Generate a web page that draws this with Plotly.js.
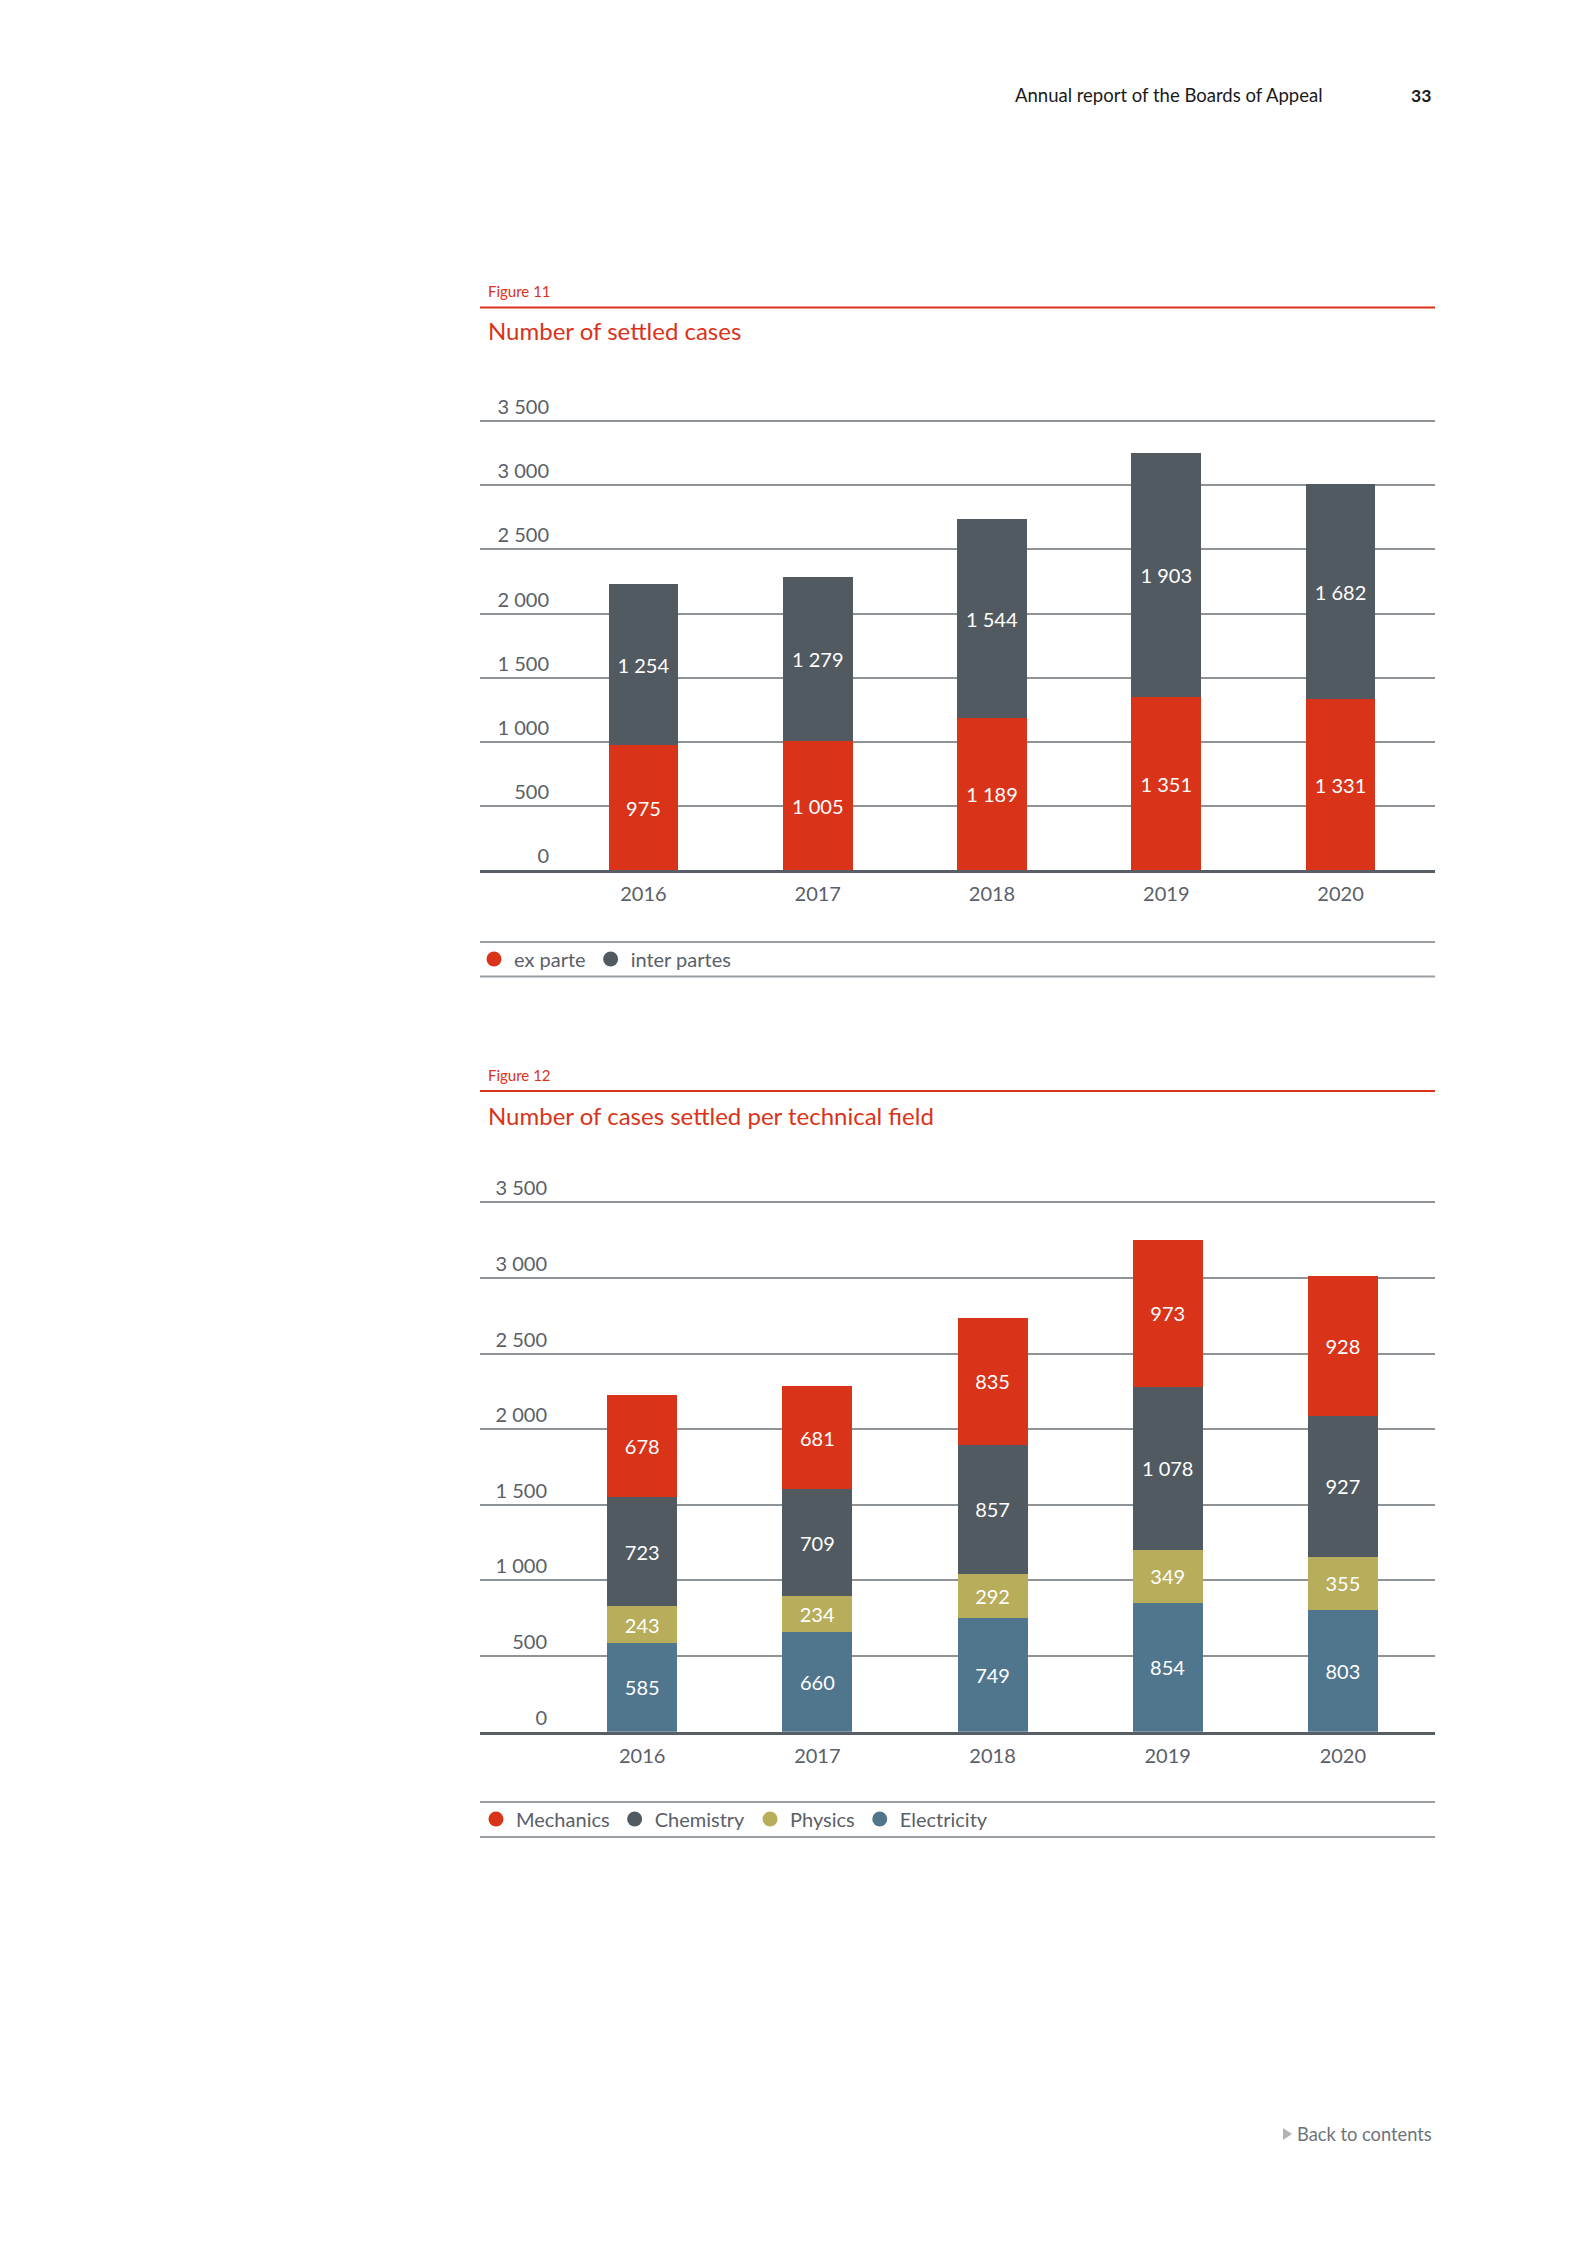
<!DOCTYPE html>
<html>
<head>
<meta charset="utf-8">
<script src="https://cdn.plot.ly/plotly-3.0.1.min.js"></script>
<style>
html,body{margin:0;padding:0;background:#fff;}
#chart{width:1587px;height:2245px;}
</style>
</head>
<body>
<div id="chart"></div>
<script>
// ---- data ----
const years = ['2016', '2017', '2018', '2019', '2020'];
const exParte = [975, 1005, 1189, 1351, 1331];
const interPartes = [1254, 1279, 1544, 1903, 1682];
const mechanics = [678, 681, 835, 973, 928];
const chemistry = [723, 709, 857, 1078, 927];
const physics = [243, 234, 292, 349, 355];
const electricity = [585, 660, 749, 854, 803];
const yTickValues = [0, 500, 1000, 1500, 2000, 2500, 3000, 3500];
const fig11Series = ['ex parte', 'inter partes'];
const fig12Series = ['Mechanics', 'Chemistry', 'Physics', 'Electricity'];

// ---- page geometry helpers ----
const W = 1587, H = 2245;
const px = p => p / W;
const py = p => 1 - p / H;

const RED = '#d9331a', GREY = '#525a61', OLIVE = '#b7ad5b', BLUE = '#50768e';
const FONT = 'Lato, "Open Sans", sans-serif';
const TXT = '#5a6068';
const GRID = '#8e9398';

function barTrace(name, values, color, xa, ya) {
  return {
    type: 'bar', name: name, x: years, y: values, xaxis: xa, yaxis: ya,
    marker: {color: color, line: {width: 0}},
    texttemplate: '%{y:,d}', textposition: 'inside', insidetextanchor: 'middle',
    textangle: 0, textfont: {family: FONT, size: 20, color: '#ffffff'},
    showlegend: false, hoverinfo: 'skip'
  };
}
function legendTrace(name, color, legendId) {
  return {
    type: 'scatter', mode: 'markers', name: name, x: [null], y: [null],
    xaxis: legendId === 'legend' ? 'x' : 'x2', yaxis: legendId === 'legend' ? 'y' : 'y2',
    marker: {symbol: 'circle', size: 15, color: color},
    legend: legendId, showlegend: true, hoverinfo: 'skip'
  };
}

const traces = [
  barTrace(fig11Series[0], exParte, RED, 'x', 'y'),
  barTrace(fig11Series[1], interPartes, GREY, 'x', 'y'),
  barTrace(fig12Series[3], electricity, BLUE, 'x2', 'y2'),
  barTrace(fig12Series[2], physics, OLIVE, 'x2', 'y2'),
  barTrace(fig12Series[1], chemistry, GREY, 'x2', 'y2'),
  barTrace(fig12Series[0], mechanics, RED, 'x2', 'y2'),
  legendTrace(fig11Series[0], RED, 'legend'),
  legendTrace(fig11Series[1], GREY, 'legend'),
  legendTrace(fig12Series[0], RED, 'legend2'),
  legendTrace(fig12Series[1], GREY, 'legend2'),
  legendTrace(fig12Series[2], OLIVE, 'legend2'),
  legendTrace(fig12Series[3], BLUE, 'legend2')
];

function xAxis(domainPx, range, anchor) {
  return {
    type: 'category', domain: [px(domainPx[0]), px(domainPx[1])], range: range,
    anchor: anchor, showgrid: false, zeroline: false,
    showline: true, linecolor: '#575e65', linewidth: 3,
    ticks: '', ticklabelstandoff: 4,
    tickfont: {family: FONT, size: 20, color: TXT}, fixedrange: true
  };
}
function yAxis(domainPx, labelRightPx) {
  return {
    domain: [py(domainPx[1]), py(domainPx[0])], range: [0, 3600],
    tickvals: yTickValues, tickformat: ',d', separatethousands: true,
    showgrid: true, gridcolor: GRID, gridwidth: 2, zeroline: false, showline: false,
    ticks: '', anchor: 'free', position: px(labelRightPx), ticklabelposition: 'outside top',
    tickfont: {family: FONT, size: 20, color: TXT}, fixedrange: true
  };
}

// fig 11: 0 at y=870.3px, 3600 at 408.2px ; fig 12: 0 at 1731.7px, 3600 at 1187.2px
const layout = {
  width: W, height: H, autosize: false,
  margin: {l: 0, r: 0, t: 0, b: 0, pad: 0},
  paper_bgcolor: '#ffffff', plot_bgcolor: 'rgba(0,0,0,0)',
  separators: '. ',
  barmode: 'stack', bargap: 0.6,
  font: {family: FONT, color: TXT},
  xaxis: xAxis([480, 1435], [-0.938, 4.542], 'y'),
  yaxis: yAxis([408.2, 870.3], 549),
  xaxis2: xAxis([480, 1435], [-0.926, 4.526], 'y2'),
  yaxis2: yAxis([1187.2, 1731.7], 547),
  legend: {
    orientation: 'h', x: px(474), xanchor: 'left', y: py(959), yanchor: 'middle',
    font: {family: FONT, size: 20, color: TXT}, bgcolor: 'rgba(0,0,0,0)',
    traceorder: 'normal', itemclick: false, itemdoubleclick: false
  },
  legend2: {
    orientation: 'h', x: px(476), xanchor: 'left', y: py(1819), yanchor: 'middle',
    font: {family: FONT, size: 20, color: TXT}, bgcolor: 'rgba(0,0,0,0)',
    traceorder: 'normal', itemclick: false, itemdoubleclick: false
  },
  shapes: [
    // red rules under figure labels
    {type: 'line', xref: 'paper', yref: 'paper', x0: px(480), x1: px(1435), y0: py(307.5), y1: py(307.5), line: {color: RED, width: 2}},
    {type: 'line', xref: 'paper', yref: 'paper', x0: px(480), x1: px(1435), y0: py(1091), y1: py(1091), line: {color: RED, width: 2}},
    // legend rules
    {type: 'line', xref: 'paper', yref: 'paper', x0: px(480), x1: px(1435), y0: py(942), y1: py(942), line: {color: '#9a9fa4', width: 2}},
    {type: 'line', xref: 'paper', yref: 'paper', x0: px(480), x1: px(1435), y0: py(976.5), y1: py(976.5), line: {color: '#9a9fa4', width: 2}},
    {type: 'line', xref: 'paper', yref: 'paper', x0: px(480), x1: px(1435), y0: py(1802), y1: py(1802), line: {color: '#9a9fa4', width: 2}},
    {type: 'line', xref: 'paper', yref: 'paper', x0: px(480), x1: px(1435), y0: py(1837), y1: py(1837), line: {color: '#9a9fa4', width: 2}},
    // back to contents triangle
    {type: 'path', xref: 'paper', yref: 'paper',
     path: 'M ' + px(1283) + ' ' + py(2128) + ' L ' + px(1292) + ' ' + py(2134) + ' L ' + px(1283) + ' ' + py(2140) + ' Z',
     fillcolor: '#b3b3b3', line: {width: 0}}
  ],
  annotations: [
    {text: 'Annual report of the Boards of Appeal', xref: 'paper', yref: 'paper', x: px(1013), y: py(95), xanchor: 'left', yanchor: 'middle', showarrow: false, font: {family: FONT, size: 18.5, color: '#1a1a1a'}},
    {text: '<b>33</b>', xref: 'paper', yref: 'paper', x: px(1433), y: py(95), xanchor: 'right', yanchor: 'middle', showarrow: false, font: {family: FONT, size: 17.5, color: '#1a1a1a'}},
    {text: 'Figure 11', xref: 'paper', yref: 'paper', x: px(486), y: py(291), xanchor: 'left', yanchor: 'middle', showarrow: false, font: {family: FONT, size: 15, color: RED}},
    {text: 'Number of settled cases', xref: 'paper', yref: 'paper', x: px(486), y: py(331), xanchor: 'left', yanchor: 'middle', showarrow: false, font: {family: FONT, size: 24, color: RED}},
    {text: 'Figure 12', xref: 'paper', yref: 'paper', x: px(486), y: py(1075), xanchor: 'left', yanchor: 'middle', showarrow: false, font: {family: FONT, size: 15, color: RED}},
    {text: 'Number of cases settled per technical field', xref: 'paper', yref: 'paper', x: px(486), y: py(1115), xanchor: 'left', yanchor: 'middle', showarrow: false, font: {family: FONT, size: 24, color: RED}},
    {text: 'Back to contents', xref: 'paper', yref: 'paper', x: px(1434), y: py(2134), xanchor: 'right', yanchor: 'middle', showarrow: false, font: {family: FONT, size: 18.3, color: '#6d737a'}}
  ]
};

Plotly.newPlot('chart', traces, layout, {staticPlot: true, displayModeBar: false});
</script>
</body>
</html>
